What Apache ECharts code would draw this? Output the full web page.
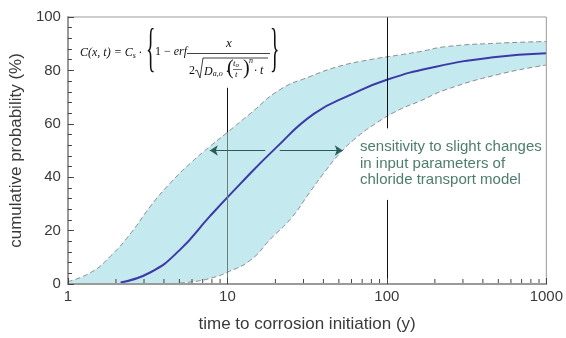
<!DOCTYPE html>
<html><head><meta charset="utf-8">
<script src="https://cdn.jsdelivr.net/npm/echarts@6/dist/echarts.min.js"></script>
<style>html,body{margin:0;padding:0;background:#fff}#c{width:566px;height:338px}</style>
</head><body><div id="c"></div>
<script>
// ---- data ----
const upperX = [1, 1.4, 1.86, 2.5, 3.3, 4.4, 5.9, 7.8, 10, 13.9, 21.4, 33, 50, 78, 120, 160, 235, 500, 1000];
const upperY = [0.9, 4.4, 10.6, 19.3, 29.2, 37.9, 45.4, 51.6, 56.8, 63.8, 72.8, 77.7, 81.5, 84, 85.8, 87, 88.9, 90.2, 90.8];
const lowerX = [4, 6, 8, 10, 14, 18.6, 25, 33, 42, 50, 62, 86, 120, 160, 235, 500, 1000];
const lowerY = [0, 0.8, 2.3, 4.4, 9, 16.8, 24.5, 34.5, 43, 48.5, 54, 60.3, 65.3, 68.4, 72.8, 78.5, 82];
const meanX  = [2.14, 3.3, 5, 7.8, 12, 20, 35, 60, 100, 200, 450, 1000];
const meanY  = [0.6, 4.4, 12.6, 25.5, 37.4, 50.8, 63.8, 71, 76.5, 81.3, 84.8, 86.4];
const minorX = [2,3,4,5,6,7,8,9,20,30,40,50,60,70,80,90,200,300,400,500,600,700,800,900];
const xRange = [1, 1000];
const yRange = [0, 100];
const yStep = 20;
const arrowY = 50;
const arrowLeft = [17.3, 7.76];
const arrowRight = [21.3, 52.9];
const note = ['sensitivity to slight changes', 'in input parameters of', 'chloride transport model'];

const chart = echarts.init(document.getElementById('c'), null, {renderer: 'canvas'});
const pairs = (xs, ys) => xs.map((x, i) => [x, ys[i]]);

const axisFont = 'Liberation Sans';
const mathFont = '"Liberation Serif", "DejaVu Serif", serif';
const bandColor = '#c4e9ee';
const dashColor = '#8c8c8c';
const SM = 0.5;

const option = {
  animation: false,
  grid: {left: 67, right: 18, top: 17, bottom: 53, show: true, z: 10, borderColor: '#9a9a9a', borderWidth: 1, backgroundColor: 'transparent'},
  xAxis: {
    type: 'log', logBase: 10, min: xRange[0], max: xRange[1], z: 10,
    name: 'time to corrosion initiation (y)', nameLocation: 'middle', nameGap: 32,
    nameTextStyle: {fontFamily: axisFont, fontSize: 17, color: '#3a3a3a'},
    axisLine: {lineStyle: {color: '#9a9a9a', width: 2}},
    axisTick: {inside: true, length: 6, lineStyle: {color: '#444'}},
    axisLabel: {fontFamily: axisFont, fontSize: 15, color: '#3a3a3a', margin: 5, formatter: v => String(v)},
    splitLine: {show: false},
    minorTick: {show: false}
  },
  yAxis: {
    type: 'value', min: yRange[0], max: yRange[1], interval: yStep, z: 10,
    name: 'cumulative probability (%)', nameLocation: 'middle', nameGap: 42,
    nameTextStyle: {fontFamily: axisFont, fontSize: 17, color: '#3a3a3a'},
    axisLine: {show: true, lineStyle: {color: '#9a9a9a', width: 2}},
    axisTick: {show: true, inside: true, length: 6, lineStyle: {color: '#444'}},
    minorTick: {show: true, splitNumber: 5, length: 4, lineStyle: {color: '#444'}},
    axisLabel: {fontFamily: axisFont, fontSize: 15, color: '#3a3a3a', margin: 7},
    splitLine: {show: false}
  },
  series: [
    {
      name: 'upper', type: 'line', data: pairs(upperX, upperY),
      smooth: SM, symbol: 'none', silent: true, z: 1,
      lineStyle: {color: dashColor, width: 1, type: [5, 3]},
      areaStyle: {color: bandColor, opacity: 1, origin: 'start'}
    },
    {
      name: 'lower', type: 'line', data: pairs(lowerX, lowerY),
      smooth: SM, symbol: 'none', silent: true, z: 2,
      lineStyle: {color: dashColor, width: 1, type: [5, 3]},
      areaStyle: {color: '#ffffff', opacity: 1, origin: 'start'},
      markLine: {
        silent: true, symbol: 'none', label: {show: false},
        data: [
          [{coord: [10, 0], lineStyle: {color: '#6e7c7e', width: 1, type: 'solid'}}, {coord: [10, 56.8]}],
          [{coord: [10, 56.8], lineStyle: {color: '#111', width: 1, type: 'solid'}}, {coord: [10, 73.5]}],
          [{coord: [100, 0], lineStyle: {color: '#111', width: 1, type: 'solid'}}, {coord: [100, 31.5]}],
          [{coord: [100, 58.3], lineStyle: {color: '#111', width: 1, type: 'solid'}}, {coord: [100, 100]}]
        ]
      }
    },
    {
      name: 'arrows', type: 'line', data: [], z: 3, silent: true,
      markLine: {
        silent: true, symbol: ['none', 'arrow'], symbolSize: 8, label: {show: false},
        lineStyle: {color: '#2c5c5a', width: 1, type: 'solid'},
        itemStyle: {color: '#2c5c5a'},
        data: [
          [{coord: [arrowLeft[0], arrowY]}, {coord: [arrowLeft[1], arrowY]}],
          [{coord: [arrowRight[0], arrowY]}, {coord: [arrowRight[1], arrowY]}]
        ]
      }
    },
    {
      name: 'mean', type: 'line', data: pairs(meanX, meanY),
      smooth: SM, symbol: 'none', silent: true, z: 4,
      lineStyle: {color: '#3c3aa8', width: 2}
    },
    {
      name: 'minorTicks', type: 'custom', silent: true, z: 5,
      data: minorX.map(v => [v, 0]),
      renderItem: function (params, api) {
        const p = api.coord([api.value(0), api.value(1)]);
        return {type: 'line', shape: {x1: p[0], y1: p[1] - 1, x2: p[0], y2: p[1] - 5},
                style: {stroke: '#444', lineWidth: 1}};
      }
    }
  ],
  graphic: [
    {type: 'text', z: 100, left: 360, top: 139,
     style: {text: note.join('\n'), font: '15px ' + axisFont, fill: '#4e7d6f', lineHeight: 16.5}},
    // formula
    {type: 'text', z: 100, x: 80, y: 46,
     style: {text: '{i|C}(x, t) = {i|C}{s|s} ·', font: 'italic 12px ' + mathFont, fill: '#111',
       rich: {i: {font: 'italic 12px ' + mathFont}, s: {font: 'italic 8px ' + mathFont, padding: [6, 0, 0, 0]}}}},
    {type: 'text', z: 100, x: 146, y: 24, scaleX: 0.7, scaleY: 1.9,
     style: {text: '{', font: '28px ' + mathFont, fill: '#111'}},
    {type: 'text', z: 100, x: 155, y: 46,
     style: {text: '1 − {i|erf}', font: '12px ' + mathFont, fill: '#111',
       rich: {i: {font: 'italic 12px ' + mathFont}}}},
    {type: 'text', z: 100, x: 226, y: 37,
     style: {text: 'x', font: 'italic 13px ' + mathFont, fill: '#111'}},
    {type: 'line', z: 100, shape: {x1: 187, y1: 53.5, x2: 270, y2: 53.5}, style: {stroke: '#111', lineWidth: 0.8}},
    {type: 'text', z: 100, x: 189, y: 65,
     style: {text: '2', font: '12px ' + mathFont, fill: '#111'}},
    {type: 'polyline', z: 100, shape: {points: [[195, 71], [197, 70], [200, 78], [203, 58], [268, 58]]},
     style: {stroke: '#111', lineWidth: 0.8, fill: null}},
    {type: 'text', z: 100, x: 204, y: 65,
     style: {text: 'D{s|a,o} ·', font: 'italic 12px ' + mathFont, fill: '#111',
       rich: {s: {font: 'italic 8px ' + mathFont, padding: [5, 0, 0, 0]}}}},
    {type: 'text', z: 100, x: 227, y: 59,
     style: {text: '(', font: '20px ' + mathFont, fill: '#111'}},
    {type: 'text', z: 100, x: 233, y: 59,
     style: {text: 't{s|o}', font: 'italic 9px ' + mathFont, fill: '#111',
       rich: {s: {font: 'italic 7px ' + mathFont, padding: [3, 0, 0, 0]}}}},
    {type: 'line', z: 100, shape: {x1: 233, y1: 69.5, x2: 242, y2: 69.5}, style: {stroke: '#111', lineWidth: 0.6}},
    {type: 'text', z: 100, x: 235, y: 70,
     style: {text: 't', font: 'italic 9px ' + mathFont, fill: '#111'}},
    {type: 'text', z: 100, x: 243, y: 59,
     style: {text: ')', font: '20px ' + mathFont, fill: '#111'}},
    {type: 'text', z: 100, x: 249, y: 57,
     style: {text: 'n', font: 'italic 8px ' + mathFont, fill: '#111'}},
    {type: 'text', z: 100, x: 254, y: 65,
     style: {text: '· t', font: 'italic 12px ' + mathFont, fill: '#111'}},
    {type: 'text', z: 100, x: 270, y: 24, scaleX: 0.7, scaleY: 1.9,
     style: {text: '}', font: '28px ' + mathFont, fill: '#111'}}
  ]
};
chart.setOption(option);
</script>
</body></html>
